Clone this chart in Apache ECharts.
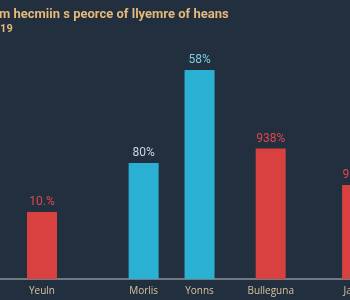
<!DOCTYPE html>
<html><head><meta charset="utf-8">
<script src="https://cdn.jsdelivr.net/npm/echarts@6/dist/echarts.min.js"></script>
<style>html,body{margin:0;padding:0;background:#212f3e;overflow:hidden;width:350px;height:300px;}#c{position:absolute;left:-40px;top:0;width:440px;height:300px;}</style>
</head><body><div id="c"></div>
<script>
var titleText = 'm hecmiin s peorce of llyemre of heans';
var subText = '2019';
var categories = ['Yeuln', 'Morlis', 'Yonns', 'Bulleguna', 'Jaelns'];
var values = [28, 48.5, 87.4, 54.6, 39.3];
var labels = ['10.%', '80%', '58%', '938%', '938%'];
var colors = ['#d94040', '#29b0d3', '#29b0d3', '#d94040', '#d94040'];
var labelColors = ['#e0474b', '#c9d6de', '#7ccfe2', '#e0474b', '#e0474b'];

// layout: the chart canvas is offset 40px left of the window (the reference is cropped)
var OFF = 40;
var slots = [8, 28, 39, 53, 70];
var N = 75, slotW = 5.082;
var axisCats = [], axisData = [];
for (var i = 0; i < N; i++) { axisCats.push(''); axisData.push('-'); }
slots.forEach(function (s, k) {
  axisCats[s] = categories[k];
  axisData[s] = {
    value: values[k],
    itemStyle: { color: colors[k] },
    label: { formatter: labels[k], color: labelColors[k] }
  };
});
var gridLeft = OFF - 1.2;
var gridRight = 440 - (gridLeft + N * slotW);

var chart = echarts.init(document.getElementById('c'));
chart.setOption({
  backgroundColor: '#212f3e',
  animation: false,
  title: [
    { text: titleText, left: OFF - 1, top: 8, padding: 0,
      textStyle: { color: '#e6b878', fontSize: 13, fontWeight: 'bold', fontFamily: 'Roboto' } },
    { text: subText, left: OFF - 12.5, top: 24, padding: 0,
      textStyle: { color: '#e6b878', fontSize: 11, fontWeight: 'bold', fontFamily: 'Roboto' } }
  ],
  grid: { left: gridLeft, top: 40, bottom: 21, right: gridRight },
  xAxis: {
    type: 'category', data: axisCats,
    axisLine: { lineStyle: { color: '#8e9296', width: 1.5 } },
    axisTick: { show: false },
    axisLabel: { interval: 0, color: '#d9c29c', fontSize: 10, fontFamily: 'Open Sans', margin: 7 }
  },
  yAxis: { type: 'value', min: 0, max: 100, show: false, splitLine: { show: false } },
  series: [{
    type: 'bar', data: axisData, barWidth: 30,
    label: { show: true, position: 'top', distance: 4, fontSize: 12, fontFamily: 'Roboto' }
  }]
});
</script></body></html>
